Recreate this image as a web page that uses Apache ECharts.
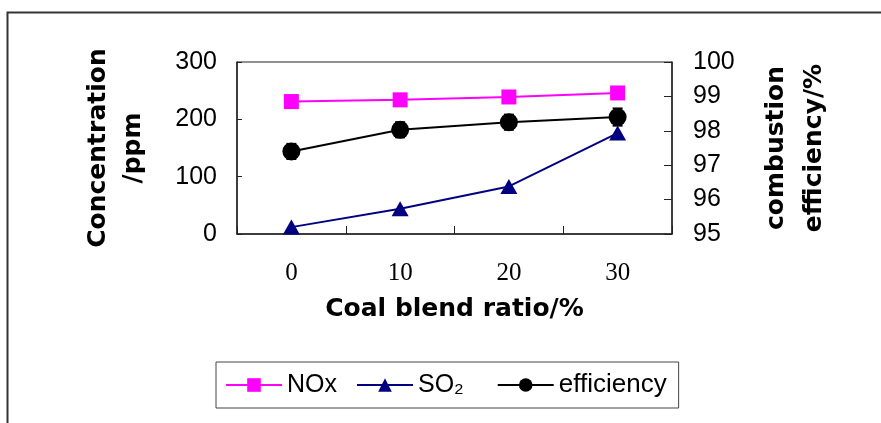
<!DOCTYPE html>
<html>
<head>
<meta charset="utf-8">
<script src="https://cdn.jsdelivr.net/npm/echarts@6/dist/echarts.min.js"></script>
<style>
    html, body { margin: 0; padding: 0; background: #fff; }
    #main { width: 881px; height: 423px; }
</style>
</head>
<body>
<div id="main"></div>
<script>
    //混煤比例
    let ratio_data = ['0', '10', '20', '30'];
    //NOx 浓度 ppm
    let nox_data = [231, 234, 239, 246];
    //SO2 浓度 ppm
    let so2_data = [12, 44, 83, 176];
    //燃烧效率 %
    let eff_data = [97.4, 98.03, 98.25, 98.4];
    //效率误差
    let eff_err = [0.22, 0.22, 0.22, 0.25];

    let axisColor = '#222';
    let nameFont = {
        color: '#000',
        fontFamily: 'DejaVu Sans',
        fontWeight: 'bold',
        fontSize: 25
    };

    let chart = {
        ec: null,
        options: {
            animation: false,
            backgroundColor: '#fff',
            graphic: [{
                //外框
                type: 'rect',
                left: 5,
                top: 10,
                shape: { width: 1000, height: 600 },
                style: { fill: 'none', stroke: '#333', lineWidth: 2 }
            }],
            grid: {
                left: 237,
                right: 209,
                top: 62,
                bottom: 189,
                show: true,
                borderColor: axisColor,
                borderWidth: 1
            },
            legend: {
                left: 216,
                top: 362,
                padding: [10, 12, 10, 9],
                borderColor: '#444',
                borderWidth: 1,
                itemWidth: 56,
                itemHeight: 17,
                itemGap: 19,
                selectedMode: false,
                //SO2 后面留点空
                formatter: (name) => name.indexOf('SO') === 0 ? name + '  ' : name,
                textStyle: {
                    color: '#000',
                    fontFamily: 'Liberation Sans',
                    fontSize: 25
                },
                data: [
                    { name: 'NOx' },
                    { name: 'SO₂' },
                    { name: 'efficiency', textStyle: { fontSize: 26 } }
                ]
            },
            xAxis: {
                type: 'category',
                data: ratio_data,
                name: 'Coal blend ratio/%',
                nameLocation: 'middle',
                nameGap: 63,
                nameTextStyle: nameFont,
                axisLine: { lineStyle: { color: axisColor, width: 1.5 } },
                axisTick: { show: true, inside: true, length: 8, lineStyle: { color: axisColor } },
                axisLabel: {
                    margin: 27,
                    color: '#000',
                    fontFamily: 'Liberation Serif',
                    fontSize: 25
                },
                splitLine: { show: false }
            },
            yAxis: [{
                type: 'value',
                min: 0,
                max: 300,
                interval: 100,
                position: 'left',
                name: 'Concentration\n/ppm',
                nameLocation: 'middle',
                nameRotate: 90,
                nameGap: 86,
                nameTextStyle: Object.assign({}, nameFont, { lineHeight: 35 }),
                axisLine: { show: true, lineStyle: { color: axisColor, width: 1.5 } },
                axisTick: { show: true, inside: true, length: 5, lineStyle: { color: axisColor } },
                axisLabel: {
                    margin: 20,
                    color: '#000',
                    fontFamily: 'Liberation Sans',
                    fontSize: 25
                },
                splitLine: { show: false }
            }, {
                type: 'value',
                min: 95,
                max: 100,
                interval: 1,
                position: 'right',
                name: 'combustion\nefficiency/%',
                nameLocation: 'middle',
                nameRotate: 90,
                nameGap: 85,
                nameTextStyle: Object.assign({}, nameFont, { lineHeight: 38 }),
                axisLine: { show: true, lineStyle: { color: axisColor, width: 1.5 } },
                axisTick: { show: true, inside: true, length: 8, lineStyle: { color: axisColor } },
                axisLabel: {
                    margin: 21,
                    color: '#000',
                    fontFamily: 'Liberation Sans',
                    fontSize: 25
                },
                splitLine: { show: false }
            }],
            series: [{
                name: 'NOx',
                type: 'line',
                yAxisIndex: 0,
                symbol: 'rect',
                symbolSize: 15,
                color: '#ff00ff',
                lineStyle: { width: 2, color: '#ff00ff' },
                data: nox_data
            }, {
                name: 'SO₂',
                type: 'line',
                yAxisIndex: 0,
                symbol: 'triangle',
                symbolSize: [17, 15],
                color: '#000080',
                lineStyle: { width: 2, color: '#000080' },
                data: so2_data
            }, {
                //误差线
                name: 'err',
                type: 'custom',
                yAxisIndex: 1,
                z: 1,
                renderItem: (params, api) => {
                    let top = api.coord([api.value(0), api.value(2)]);
                    let bot = api.coord([api.value(0), api.value(1)]);
                    let half = 5;
                    let style = { stroke: '#000', lineWidth: 2 };
                    return {
                        type: 'group',
                        children: [
                            { type: 'line', shape: { x1: top[0], y1: top[1], x2: bot[0], y2: bot[1] }, style: style },
                            { type: 'line', shape: { x1: top[0] - half, y1: top[1], x2: top[0] + half, y2: top[1] }, style: style },
                            { type: 'line', shape: { x1: bot[0] - half, y1: bot[1], x2: bot[0] + half, y2: bot[1] }, style: style }
                        ]
                    };
                },
                data: eff_data.map((v, i) => [i, v - eff_err[i], v + eff_err[i]])
            }, {
                name: 'efficiency',
                type: 'line',
                yAxisIndex: 1,
                symbol: 'circle',
                symbolSize: 18,
                color: '#000',
                lineStyle: { width: 2, color: '#000' },
                data: eff_data
            }]
        }
    };

    chart.ec = echarts.init(document.getElementById('main'));
    chart.ec.setOption(chart.options);
</script>
</body>
</html>
